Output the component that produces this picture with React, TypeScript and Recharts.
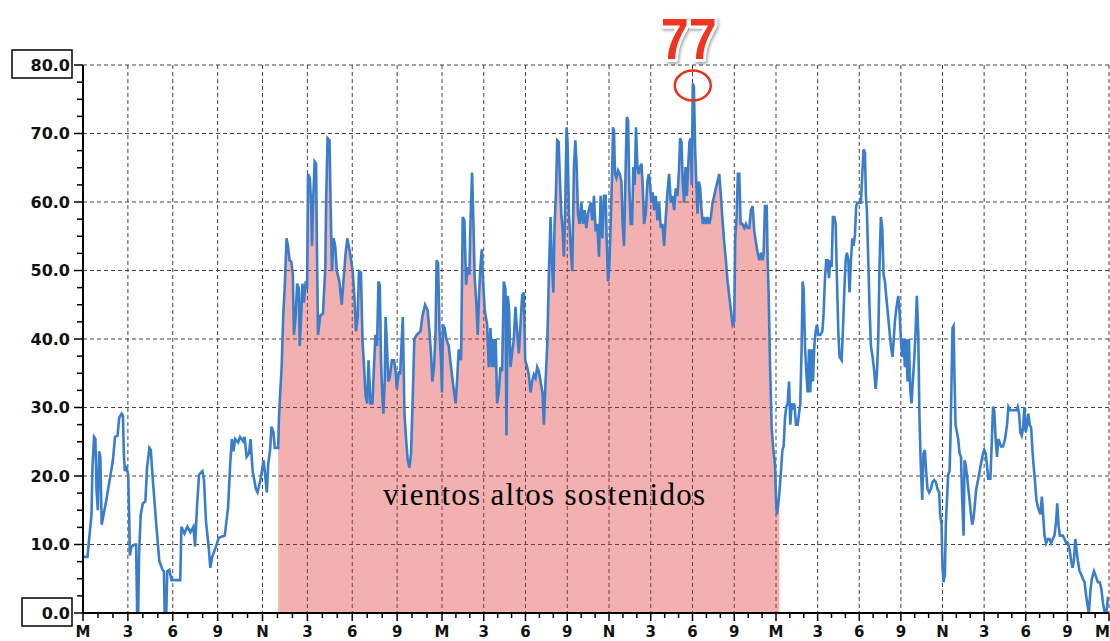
import {
  ComposedChart,
  Area,
  Line,
  XAxis,
  YAxis,
  CartesianGrid,
  ReferenceDot,
} from "recharts";

// Wind speed over three days: [hour since first midnight, speed]
const DIA_1: [number, number][] = [
  [0, 8.2], [0.3, 8.2], [0.41, 10.8], [0.57, 14.4], [0.63, 21.2], [0.74, 25.7], [0.83, 25.4], [0.9, 18.1],
  [0.99, 15.0], [1.08, 23.6], [1.16, 22.8], [1.25, 12.9], [1.38, 14.4], [1.56, 16.5], [1.78, 19.4], [2.0, 22.3],
  [2.14, 25.7], [2.31, 25.9], [2.42, 28.5], [2.58, 29.1], [2.67, 28.8], [2.73, 23.3], [2.8, 20.7], [2.89, 21.5],
  [3.02, 20.2], [3.09, 13.9], [3.13, 8.4], [3.24, 9.7], [3.46, 10], [3.55, 10], [3.62, 0], [3.69, 0],
  [3.75, 8.7], [3.86, 14.4], [4.0, 16.0], [4.17, 16.3], [4.28, 21.2], [4.44, 24.1], [4.53, 23.8], [4.66, 19.7],
  [4.88, 13.4], [5.1, 7.6], [5.32, 6.3], [5.41, 6.1], [5.46, 0], [5.57, 0], [5.63, 6.1], [5.77, 6.3],
  [5.92, 4.8], [6.5, 4.8], [6.58, 12.6], [6.78, 11.6], [6.98, 12.6], [7.18, 11.8], [7.38, 12.6], [7.49, 9.7],
  [7.62, 15.5], [7.76, 20.2], [7.98, 20.7], [8.09, 19.4], [8.22, 13.4], [8.42, 9.2], [8.51, 6.6], [8.64, 8.2],
  [8.86, 9.5], [9.08, 11.0], [9.48, 11.3], [9.7, 15.5], [9.84, 21.7], [9.95, 25.4], [10.06, 23.6], [10.17, 25.4],
  [10.37, 24.9], [10.5, 25.7], [10.7, 25.1], [10.8, 25.7], [10.94, 22.8], [11.1, 23.3], [11.2, 25.4], [11.34, 20.7],
  [11.56, 18.1], [11.67, 17.6], [11.89, 19.7], [12.07, 22.3], [12.15, 20.7], [12.29, 17.6], [12.38, 21.7], [12.51, 23.8],
  [12.6, 27.2], [12.73, 26.4], [12.82, 24.1], [13.05, 24.1], [13.1, 28.5], [13.17, 31.7], [13.28, 35.9], [13.39, 43.7],
  [13.48, 47.3], [13.61, 54.7], [13.7, 53.6], [13.81, 51.5], [13.92, 51.3], [14.03, 49.4], [14.1, 40.6], [14.21, 43.2],
  [14.32, 48.1], [14.43, 47.3], [14.49, 39.0], [14.58, 43.2], [14.67, 48.1], [14.76, 45.3], [14.89, 48.4], [14.98, 47.3],
  [15.05, 64.1], [15.16, 63.5], [15.25, 59.9], [15.31, 53.6], [15.38, 59.9], [15.49, 65.9], [15.58, 65.6], [15.64, 53.6],
  [15.71, 40.6], [15.86, 43.4], [16.04, 43.7], [16.2, 50.5], [16.26, 60.9], [16.35, 69.3], [16.48, 69.0], [16.57, 57.8],
  [16.64, 49.9], [16.75, 54.7], [16.86, 53.6], [16.97, 49.9], [17.14, 48.4], [17.3, 45.0], [17.41, 48.4], [17.56, 52.6],
  [17.67, 54.7], [17.85, 52.6], [18.03, 49.9], [18.14, 46.3], [18.25, 41.1], [18.36, 43.2], [18.45, 49.9], [18.58, 49.7],
  [18.69, 39.5], [18.78, 36.4], [18.89, 31.7], [19.0, 30.6], [19.09, 36.9], [19.22, 30.6], [19.35, 30.6], [19.44, 35.3],
  [19.55, 40.6], [19.66, 39.0], [19.75, 48.4], [19.84, 47.9], [19.93, 36.4], [20.01, 31.7], [20.08, 29.1], [20.17, 33.8],
  [20.23, 43.2], [20.32, 39.0], [20.41, 33.8], [20.5, 34.3], [20.65, 36.9], [20.79, 36.9], [20.9, 35.3], [20.98, 32.7],
  [21.12, 35.3], [21.2, 34.8], [21.38, 43.2], [21.49, 29.1], [21.6, 25.4], [21.71, 22.3], [21.82, 21.2], [21.93, 23.3],
  [22.04, 31.2], [22.15, 40.0], [22.31, 40.6], [22.56, 41.1], [22.68, 43.2], [22.87, 45.0], [23.04, 44.2], [23.16, 41.1],
  [23.28, 37.4], [23.35, 33.8], [23.47, 35.9], [23.57, 41.1], [23.64, 51.5], [23.74, 51.0], [23.83, 41.6], [23.93, 36.9],
];

const DIA_2: [number, number][] = [
  [24.0, 32.2], [24.07, 42.1], [24.19, 41.6], [24.31, 40.0], [24.48, 39.0], [24.65, 35.9], [24.84, 32.7], [24.98, 30.6],
  [25.08, 33.8], [25.2, 38.5], [25.37, 36.9], [25.49, 57.8], [25.61, 57.3], [25.73, 47.9], [25.85, 50.5], [25.97, 49.4],
  [26.04, 56.8], [26.16, 64.3], [26.26, 56.8], [26.35, 48.9], [26.45, 45.8], [26.57, 40.6], [26.66, 46.3], [26.76, 50.5],
  [26.86, 53.1], [26.95, 48.4], [27.07, 44.2], [27.24, 42.1], [27.36, 35.9], [27.48, 41.6], [27.58, 35.9], [27.67, 40.0],
  [27.77, 35.9], [27.86, 40.0], [27.96, 30.6], [28.08, 32.2], [28.2, 35.9], [28.32, 35.3], [28.44, 48.4], [28.56, 47.3],
  [28.63, 25.9], [28.73, 46.3], [28.82, 44.2], [28.92, 35.9], [29.04, 37.9], [29.16, 40.0], [29.28, 44.7], [29.4, 41.1],
  [29.52, 37.9], [29.64, 42.1], [29.76, 46.3], [29.88, 46.8], [29.98, 36.9], [30.12, 35.9], [30.24, 34.8], [30.36, 32.2],
  [30.48, 33.8], [30.6, 34.8], [30.72, 34.3], [30.84, 35.9], [30.96, 35.3], [31.08, 33.8], [31.22, 32.2], [31.32, 27.5],
  [31.44, 33.8], [31.56, 39.0], [31.68, 49.4], [31.8, 57.8], [31.9, 51.0], [32.0, 46.8], [32.09, 56.8], [32.18, 60.9],
  [32.28, 69.0], [32.38, 68.8], [32.47, 63.5], [32.57, 58.3], [32.66, 56.2], [32.76, 52.0], [32.86, 59.9], [32.95, 70.9],
  [33.02, 68.8], [33.12, 58.3], [33.24, 53.6], [33.36, 49.9], [33.48, 65.1], [33.58, 69.0], [33.67, 65.6], [33.77, 58.3],
  [33.89, 56.8], [34.01, 59.9], [34.13, 56.8], [34.25, 58.8], [34.37, 56.2], [34.49, 58.3], [34.68, 59.9], [34.8, 57.3],
  [34.92, 60.9], [35.04, 55.7], [35.16, 56.8], [35.28, 52.0], [35.4, 60.9], [35.52, 54.7], [35.64, 60.9], [35.76, 60.9],
  [35.83, 54.7], [35.93, 48.4], [36.02, 50.5], [36.12, 56.8], [36.22, 64.1], [36.29, 70.9], [36.36, 70.3], [36.43, 64.1],
  [36.53, 63.5], [36.65, 64.6], [36.77, 64.1], [36.89, 63.0], [36.98, 56.8], [37.08, 53.6], [37.18, 63.5], [37.28, 72.4],
  [37.37, 71.9], [37.46, 62.0], [37.56, 56.8], [37.66, 56.8], [37.75, 65.1], [37.85, 62.5], [37.94, 70.9], [38.04, 65.1],
  [38.14, 64.1], [38.23, 65.1], [38.33, 65.6], [38.42, 62.5], [38.52, 56.8], [38.64, 58.3], [38.76, 63.0], [38.86, 64.1],
  [38.95, 62.5], [39.05, 59.9], [39.14, 61.4], [39.24, 58.8], [39.36, 60.9], [39.48, 57.3], [39.6, 59.9], [39.72, 56.2],
  [39.84, 56.8], [39.96, 53.6], [40.08, 57.8], [40.2, 61.4], [40.32, 64.1], [40.44, 59.9], [40.56, 60.9], [40.68, 58.8],
  [40.8, 62.0], [40.92, 60.9], [41.04, 65.1], [41.11, 69.3], [41.21, 68.8], [41.3, 63.0], [41.4, 59.9], [41.5, 65.1],
  [41.59, 60.9], [41.69, 65.1], [41.78, 68.8], [41.88, 69.3], [41.95, 62.5], [42.02, 77.3], [42.1, 76.8], [42.19, 67.7],
  [42.26, 63.5], [42.36, 58.3], [42.46, 63.0], [42.55, 62.0], [42.65, 58.8], [42.74, 56.8], [42.84, 57.8], [42.96, 56.8],
  [43.08, 57.8], [43.2, 56.8], [43.32, 57.8], [43.44, 59.9], [43.56, 60.9], [43.68, 62.0], [43.8, 63.0], [43.92, 64.1],
  [44.04, 60.9], [44.16, 57.3], [44.28, 54.1], [44.4, 51.5], [44.52, 48.4], [44.64, 46.3], [44.76, 44.2], [44.88, 42.1],
  [45.0, 42.6], [45.07, 54.7], [45.17, 57.8], [45.26, 64.1], [45.36, 64.1], [45.46, 56.8], [45.58, 56.8], [45.72, 56.2],
  [45.84, 56.8], [45.96, 56.2], [46.08, 56.2], [46.2, 58.8], [46.32, 59.4], [46.44, 55.7], [46.56, 54.1], [46.68, 52.6],
  [46.8, 51.5], [46.92, 52.6], [47.04, 51.5], [47.11, 52.6], [47.21, 59.4], [47.33, 59.4], [47.4, 51.5], [47.47, 46.8],
  [47.57, 36.4], [47.69, 27.0], [47.81, 23.8], [47.93, 21.7],
];

const DIA_3: [number, number][] = [
  [48.0, 16.5], [48.07, 14.4], [48.17, 16.0], [48.24, 17.5], [48.36, 20.7], [48.46, 23.8], [48.55, 24.3], [48.65, 28.5],
  [48.74, 30.1], [48.84, 30.6], [48.94, 33.8], [49.03, 27.5], [49.13, 30.6], [49.22, 30.1], [49.32, 30.6], [49.44, 27.5],
  [49.56, 27.5], [49.66, 29.1], [49.75, 30.6], [49.85, 39.0], [49.92, 48.4], [49.99, 47.3], [50.09, 39.0], [50.18, 35.3],
  [50.28, 32.2], [50.38, 38.5], [50.47, 32.2], [50.57, 38.5], [50.66, 33.8], [50.76, 39.0], [50.86, 41.1], [50.95, 42.1],
  [51.05, 40.6], [51.19, 40.6], [51.34, 41.1], [51.43, 43.7], [51.53, 48.9], [51.62, 51.5], [51.72, 51.5], [51.82, 48.9],
  [51.91, 51.5], [52.01, 50.5], [52.1, 57.8], [52.2, 57.8], [52.3, 56.8], [52.39, 48.9], [52.49, 41.1], [52.58, 37.4],
  [52.73, 36.9], [52.82, 41.1], [52.92, 46.8], [53.02, 51.5], [53.11, 52.6], [53.21, 51.5], [53.3, 46.8], [53.4, 51.5],
  [53.5, 54.7], [53.59, 53.6], [53.69, 55.2], [53.78, 59.4], [53.88, 59.9], [54.0, 59.9], [54.12, 59.9], [54.22, 64.1],
  [54.31, 67.7], [54.41, 67.2], [54.48, 60.9], [54.55, 58.8], [54.65, 51.5], [54.74, 44.7], [54.84, 39.0], [54.96, 37.4],
  [55.08, 35.3], [55.18, 32.7], [55.27, 34.8], [55.37, 40.0], [55.46, 50.5], [55.56, 57.8], [55.66, 56.2], [55.75, 49.4],
  [55.85, 48.4], [55.94, 46.3], [56.04, 44.2], [56.16, 41.6], [56.28, 39.0], [56.4, 37.4], [56.47, 39.5], [56.57, 42.6],
  [56.69, 44.7], [56.81, 46.3], [56.9, 44.2], [57.0, 40.0], [57.1, 37.4], [57.19, 40.0], [57.29, 35.9], [57.38, 40.0],
  [57.48, 33.8], [57.58, 40.0], [57.67, 32.7], [57.77, 30.6], [57.86, 33.8], [57.96, 36.9], [58.06, 41.1], [58.15, 46.3],
  [58.25, 41.1], [58.34, 28.5], [58.44, 21.2], [58.54, 16.5], [58.63, 23.3], [58.73, 23.8], [58.82, 20.7], [58.92, 18.1],
  [59.04, 17.6], [59.16, 18.1], [59.28, 19.1], [59.4, 19.4], [59.52, 19.1], [59.64, 18.1], [59.76, 17.6], [59.83, 14.4],
  [59.93, 12.9], [60.0, 6.6], [60.07, 4.5], [60.17, 5.6], [60.24, 12.9], [60.31, 16.0], [60.41, 20.2], [60.51, 20.7],
  [60.58, 25.9], [60.65, 33.8], [60.72, 41.6], [60.8, 41.9], [60.87, 33.8], [60.94, 27.5], [61.04, 26.4], [61.13, 25.4],
  [61.23, 23.3], [61.33, 22.8], [61.42, 16.5], [61.52, 11.3], [61.59, 22.3], [61.66, 21.7], [61.76, 20.2], [61.86, 18.1],
  [61.95, 16.5], [62.05, 14.4], [62.14, 12.9], [62.24, 13.9], [62.34, 16.0], [62.43, 18.1], [62.53, 19.1], [62.63, 20.2],
  [62.72, 21.2], [62.82, 22.3], [62.92, 23.3], [63.01, 23.8], [63.11, 23.3], [63.2, 21.7], [63.3, 19.6], [63.45, 19.6],
  [63.54, 24.3], [63.64, 30.1], [63.73, 29.6], [63.83, 25.4], [63.93, 22.8], [64.02, 25.4], [64.12, 24.9], [64.22, 24.3],
  [64.36, 24.3], [64.51, 25.4], [64.65, 27.5], [64.75, 30.1], [64.89, 29.6], [65.04, 29.6], [65.18, 29.6], [65.33, 29.6],
  [65.42, 30.1], [65.52, 29.1], [65.61, 26.4], [65.71, 25.9], [65.81, 27.0], [65.9, 30.1], [66.0, 26.4], [66.1, 27.5],
  [66.19, 29.1], [66.29, 27.5], [66.39, 27.0], [66.48, 23.8], [66.58, 21.2], [66.67, 19.1], [66.77, 16.5], [66.87, 15.5],
  [66.96, 15.0], [67.06, 14.4], [67.16, 17.0], [67.25, 14.4], [67.35, 11.3], [67.47, 10.2], [67.59, 10.8], [67.71, 10.8],
  [67.83, 10.2], [67.95, 10.8], [68.07, 11.3], [68.19, 13.4], [68.27, 16.0], [68.36, 12.9], [68.46, 11.3], [68.55, 11.3],
  [68.67, 11.3], [68.8, 10.8], [68.92, 10.2], [69.04, 10.2], [69.16, 9.2], [69.28, 7.6], [69.37, 6.6], [69.47, 7.6],
  [69.57, 10.8], [69.66, 9.2], [69.76, 7.6], [69.88, 6.1], [70.0, 5.6], [70.12, 5.0], [70.24, 4.5], [70.36, 2.4],
  [70.48, 0.8], [70.55, 0], [70.67, 3.5], [70.77, 5.0], [70.92, 6.1], [71.01, 5.6], [71.11, 5.0], [71.2, 4.5],
  [71.33, 4.5], [71.45, 3.5], [71.57, 1.4], [71.69, 0], [71.81, 0], [71.93, 2.4],
];

// tick labels for one day (midnight, 3, 6, 9, noon, ...)
const HOUR_LABELS = ["M", "3", "6", "9", "N", "3", "6", "9"];

// period of sustained high winds (shaded)
const FILL_START = 13.05;
const FILL_END = 48.24;

const PEAK = { hour: 42.02, value: 77 };
const NOTE = "vientos altos sostenidos";

// the source axis does not give every day the same width
const DAY_SPANS = [359, 334, 333];

const HOUR_TICKS = Array.from({ length: 73 }, (_, i) => i);
const GRID_HOURS = Array.from({ length: 24 }, (_, i) => (i + 1) * 3);
const Y_TICKS = Array.from({ length: 33 }, (_, i) => i * 2.5);
const GRID_SPEEDS = [10, 20, 30, 40, 50, 60, 70, 80];

const SERIES = [...DIA_1, ...DIA_2, ...DIA_3];
const data = SERIES.map(([h, v]) => ({
  h,
  v,
  fill: h >= FILL_START && h <= FILL_END ? v : null,
}));

// piecewise-linear time scale, one segment per day
function dayScale(spans: number[]) {
  let domain = [0, 72];
  let range = [0, 1];
  const total = spans.reduce((a, b) => a + b, 0);
  const knots = [0];
  spans.forEach((s) => knots.push(knots[knots.length - 1] + s / total));
  const scale: any = (value: number) => {
    const t = ((value - domain[0]) / (domain[1] - domain[0])) * spans.length;
    const i = Math.max(0, Math.min(spans.length - 1, Math.floor(t)));
    const f = knots[i] + (t - i) * (knots[i + 1] - knots[i]);
    return range[0] + f * (range[1] - range[0]);
  };
  scale.domain = (d?: any[]) => {
    if (d === undefined) return domain.slice();
    domain = d.map(Number);
    return scale;
  };
  scale.range = (r?: any[]) => {
    if (r === undefined) return range.slice();
    range = r.map(Number);
    return scale;
  };
  scale.copy = () => dayScale(spans).domain(domain).range(range);
  scale.ticks = () => HOUR_TICKS;
  scale.tickFormat = () => (v: number) => String(v);
  return scale;
}

const AXIS_FONT = "'DejaVu Sans', Verdana, sans-serif";

function YTick(props: any) {
  const { x, y, payload } = props;
  const v = payload.value as number;
  const major = v % 10 === 0;
  return (
    <g>
      <line x1={x - (major ? 9 : 6)} x2={x} y1={y} y2={y} stroke="#000" strokeWidth={1.5} />
      {major && (v === 0 || v === 80) && (
        <rect
          x={x - (v === 80 ? 71 : 61)}
          y={y - 15}
          width={v === 80 ? 60 : 50}
          height={28}
          fill="none"
          stroke="#000"
          strokeWidth={1.5}
        />
      )}
      {major && (
        <text
          x={x - 13}
          y={y}
          dy="0.36em"
          textAnchor="end"
          fontFamily={AXIS_FONT}
          fontWeight="bold"
          fontSize={16}
          fill="#111"
        >
          {v.toFixed(1)}
        </text>
      )}
    </g>
  );
}

function XTick(props: any) {
  const { x, y, payload } = props;
  const h = payload.value as number;
  const major = h % 3 === 0;
  const last = h === HOUR_TICKS[HOUR_TICKS.length - 1];
  return (
    <g>
      <line x1={x} x2={x} y1={y} y2={y + (major ? 8 : 5)} stroke="#000" strokeWidth={1.5} />
      {major && (
        <text
          x={last ? x + 1 : x}
          y={y + 24}
          textAnchor={last ? "end" : "middle"}
          fontFamily={AXIS_FONT}
          fontWeight="bold"
          fontSize={15}
          fill="#111"
        >
          {HOUR_LABELS[(h / 3) % 8]}
        </text>
      )}
    </g>
  );
}

function PeakMark(props: any) {
  const { cx, cy } = props;
  return (
    <g>
      <defs>
        <filter id="peakShadow" x="-30%" y="-30%" width="160%" height="160%">
          <feDropShadow dx="1.5" dy="2" stdDeviation="1.5" floodColor="#000" floodOpacity="0.35" />
        </filter>
      </defs>
      <ellipse cx={cx} cy={cy} rx={18} ry={15} fill="none" stroke="#e8321e" strokeWidth={2.5} />
      <text
        x={cx - 4}
        y={cy - 27}
        textAnchor="middle"
        fontFamily="'Liberation Sans Narrow', 'Liberation Sans', Arial, sans-serif"
        fontWeight="bold"
        fontSize={58}
        textLength={56}
        lengthAdjust="spacingAndGlyphs"
        fill="#ee3420"
        stroke="#fff"
        strokeWidth={6}
        paintOrder="stroke"
        strokeLinejoin="round"
        filter="url(#peakShadow)"
      >
        {PEAK.value}
      </text>
    </g>
  );
}

export default function App() {
  return (
    <div
      style={{
        position: "absolute",
        left: 0,
        top: 0,
        width: 1110,
        height: 641,
        background: "#fff",
        overflow: "hidden",
      }}
    >
      <ComposedChart
        width={1110}
        height={641}
        data={data}
        margin={{ top: 65, right: 1, bottom: 0, left: 0 }}
      >
        <CartesianGrid
          stroke="#444"
          strokeDasharray="4 3"
          horizontalValues={GRID_SPEEDS}
          verticalValues={GRID_HOURS}
        />
        <XAxis
          type="number"
          dataKey="h"
          domain={[0, 72]}
          scale={dayScale(DAY_SPANS)}
          ticks={HOUR_TICKS}
          interval={0}
          tickSize={0}
          tickMargin={0}
          tick={<XTick />}
          axisLine={{ stroke: "#000", strokeWidth: 2 }}
          tickLine={false}
          height={28}
          allowDataOverflow
        />
        <YAxis
          type="number"
          domain={[0, 80]}
          ticks={Y_TICKS}
          interval={0}
          tickSize={0}
          tickMargin={0}
          tick={<YTick />}
          axisLine={{ stroke: "#000", strokeWidth: 2 }}
          tickLine={false}
          width={83}
          allowDataOverflow
        />
        <Area
          type="linear"
          dataKey="fill"
          fill="#e03030"
          fillOpacity={0.38}
          stroke="none"
          dot={false}
          activeDot={false}
          isAnimationActive={false}
        />
        <Line
          type="linear"
          dataKey="v"
          stroke="#3a7ecb"
          strokeWidth={2.6}
          dot={false}
          activeDot={false}
          isAnimationActive={false}
        />
        <ReferenceDot x={PEAK.hour} y={PEAK.value} r={16} shape={PeakMark} />
      </ComposedChart>
      <svg
        width={1110}
        height={641}
        style={{ position: "absolute", left: 0, top: 0, pointerEvents: "none" }}
      >
        <text
          x={383}
          y={505}
          fontFamily="'Liberation Serif', 'DejaVu Serif', serif"
          fontSize={31}
          textLength={322}
          lengthAdjust="spacing"
          fill="#000"
        >
          {NOTE}
        </text>
      </svg>
    </div>
  );
}
